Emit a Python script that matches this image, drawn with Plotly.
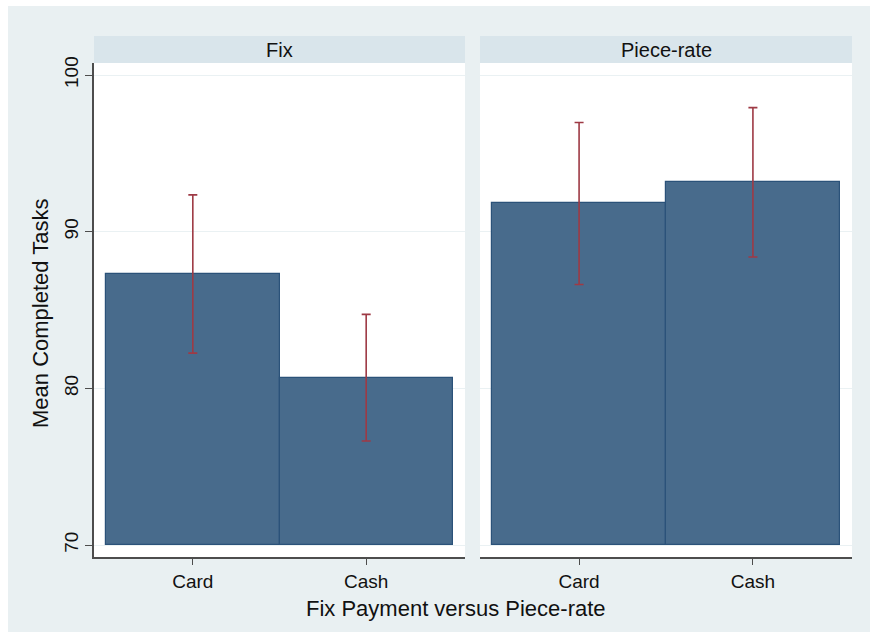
import plotly.graph_objects as go

# Mean completed tasks by payment method, split by pay scheme
panels = ["Fix", "Piece-rate"]
methods = ["Card", "Cash"]
means = {"Fix": [87.3, 80.68], "Piece-rate": [91.8, 93.15]}
ci_half = {"Fix": [5.05, 4.04], "Piece-rate": [5.17, 4.77]}
y_ticks = [70, 80, 90, 100]

W, H = 870, 637
L, R, T, B = 94, 852, 36, 557  # plotting region in pixels
BG = "#e9f0f2"
STRIP = "#d9e5eb"
BAR = "#486b8c"
BAR_LINE = "#2b5279"
ERR = "#9e3a45"
AX = "#4d4d4d"
FONT = "Liberation Sans, Arial, sans-serif"


def px_x(p):
    return (p - L) / (R - L)


def px_y(p):
    return (B - p) / (B - T)


fig = go.Figure()
xnum = [0, 1]
for i, panel in enumerate(panels):
    xa = "x" if i == 0 else "x2"
    ya = "y" if i == 0 else "y2"
    fig.add_trace(go.Bar(
        x=xnum, y=[m - 70 for m in means[panel]], base=70, width=1.0,
        marker=dict(color=BAR, line=dict(color=BAR_LINE, width=1.2)),
        xaxis=xa, yaxis=ya, showlegend=False, hoverinfo="skip",
    ))
    fig.add_trace(go.Scatter(
        x=xnum, y=means[panel], mode="markers",
        marker=dict(size=1, color="rgba(0,0,0,0)"),
        error_y=dict(type="data", array=ci_half[panel], symmetric=True,
                     color=ERR, thickness=1.6, width=4.5),
        xaxis=xa, yaxis=ya, showlegend=False, hoverinfo="skip",
    ))

y_top = px_y(63)
dom1 = [0, px_x(465)]
dom2 = [px_x(480), 1]
yrange = [70 - (557 - 545) / 15.67, 100 + (75 - 63) / 15.67]
xrange = [-0.57, 1.57]

common_x = dict(range=xrange, tickvals=xnum, ticktext=methods, showgrid=False,
                zeroline=False, showline=True, linecolor=AX, linewidth=1.5,
                ticks="outside", ticklen=6, tickcolor=AX, tickwidth=1.2,
                tickfont=dict(family=FONT, size=19, color="#111"), fixedrange=True)
common_y = dict(range=yrange, tickvals=y_ticks, showgrid=True, gridcolor="#eaf1f3",
                gridwidth=1.2, zeroline=False, fixedrange=True)

fig.update_layout(
    width=W, height=H,
    margin=dict(l=L, r=W - R, t=T, b=H - B),
    paper_bgcolor="white", plot_bgcolor="rgba(0,0,0,0)",
    xaxis=dict(domain=dom1, anchor="y", **common_x),
    xaxis2=dict(domain=dom2, anchor="y2", **common_x),
    yaxis=dict(domain=[0, y_top], anchor="x", showline=True, linecolor=AX,
               linewidth=1.5, ticks="outside", ticklen=7, tickcolor=AX,
               tickwidth=1.2, tickangle=-90,
               tickfont=dict(family=FONT, size=19, color="#111"), **common_y),
    yaxis2=dict(domain=[0, y_top], anchor="x2", showline=False,
                showticklabels=False, ticks="", **common_y),
    bargap=0,
)

shapes = [
    # outer background panel
    dict(type="rect", xref="paper", yref="paper", layer="below",
         x0=px_x(8), x1=px_x(870), y0=px_y(632), y1=px_y(6),
         fillcolor=BG, line=dict(width=0)),
]
for (x0, x1) in [(94, 465), (480, 852)]:
    shapes.append(dict(type="rect", xref="paper", yref="paper", layer="below",
                       x0=px_x(x0), x1=px_x(x1), y0=0, y1=y_top,
                       fillcolor="white", line=dict(width=0)))
    shapes.append(dict(type="rect", xref="paper", yref="paper", layer="below",
                       x0=px_x(x0), x1=px_x(x1), y0=y_top, y1=1,
                       fillcolor=STRIP, line=dict(width=0)))
fig.update_layout(shapes=shapes)

annotations = []
for panel, (x0, x1) in zip(panels, [(94, 465), (480, 852)]):
    annotations.append(dict(text=panel, xref="paper", yref="paper",
                            x=px_x((x0 + x1) / 2), y=px_y(49.5), showarrow=False,
                            xanchor="center", yanchor="middle",
                            font=dict(family=FONT, size=20, color="#111")))
annotations.append(dict(text="Fix Payment versus Piece-rate", xref="paper", yref="paper",
                        x=px_x(456), y=px_y(608), showarrow=False,
                        xanchor="center", yanchor="middle",
                        font=dict(family=FONT, size=22, color="#111")))
annotations.append(dict(text="Mean Completed Tasks", xref="paper", yref="paper",
                        x=px_x(40), y=px_y(313), showarrow=False, textangle=-90,
                        xanchor="center", yanchor="middle",
                        font=dict(family=FONT, size=22, color="#111")))
fig.update_layout(annotations=annotations)

fig.write_html("out.html")
